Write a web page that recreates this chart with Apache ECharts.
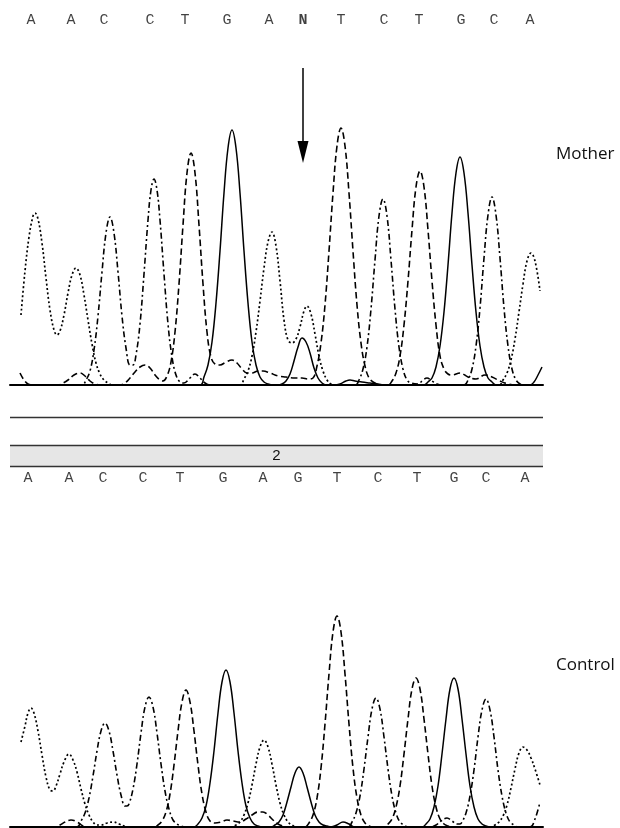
<!DOCTYPE html>
<html><head><meta charset="utf-8">
<script src="https://cdn.jsdelivr.net/npm/echarts@6/dist/echarts.min.js"></script>
<style>html,body{margin:0;padding:0;background:#fff}#c{width:620px;height:828px}</style>
</head><body><div id="c"></div>
<script>
// Sequence rows
var topSeq = ['A','A','C','C','T','G','A','N','T','C','T','G','C','A'];
var topPos = [31,71,104,150,185,227,269,303,341,384,419,461,494,530];
var bottomSeq = ['A','A','C','C','T','G','A','G','T','C','T','G','C','A'];
var bottomPos = [28,69,103,143,180,223,263,298,337,378,417,454,486,525];
var regionLabel = '2';
var arrowX = 303;

// Mother traces [scan position, signal]
var motherA = [[21,70],[25,114],[29,148],[33,169],[35,172],[38,166],[42,142],[46,107],[50,75],[54,55],[57,50],[60,54],[64,70],[68,92],[72,110],[76,117],[80,110],[84,90],[88,65],[92,41],[96,22],[100,11],[104,5],[108,2],[112,0],[240,0],[244,6],[248,14],[252,29],[256,53],[260,84],[264,117],[268,143],[272,153],[276,139],[280,104],[284,65],[288,45],[292,42],[296,46],[300,58],[304,74],[307,79],[311,71],[315,51],[319,29],[323,14],[327,5],[331,1],[335,0],[499,0],[503,5],[507,12],[511,25],[515,46],[519,73],[523,101],[527,124],[531,132],[535,124],[540,94]];
var motherC = [[20,0],[82,0],[86,5],[90,14],[94,35],[98,69],[102,113],[106,152],[110,168],[114,152],[118,113],[122,69],[126,37],[130,20],[133,20],[136,30],[140,61],[144,111],[148,165],[151,195],[154,206],[157,195],[160,165],[164,111],[168,61],[172,28],[176,10],[180,3],[184,2],[190,7],[195,11],[200,7],[205,2],[210,0],[355,0],[359,5],[363,16],[367,38],[371,76],[375,125],[379,169],[383,186],[387,169],[391,125],[395,76],[399,38],[403,16],[407,5],[411,2],[418,1],[422,4],[427,7],[432,4],[437,1],[442,0],[464,0],[468,5],[472,16],[476,39],[480,77],[484,127],[488,170],[492,188],[496,170],[500,127],[504,77],[508,39],[512,16],[516,5],[520,1],[524,0],[543,0]];
var motherT = [[20,12],[24,5],[28,1],[33,0],[58,0],[63,2],[68,5],[74,10],[80,12],[85,9],[90,4],[95,1],[100,0],[120,0],[125,2],[130,7],[135,13],[140,18],[145,20],[150,17],[155,10],[160,5],[163,4],[167,9],[171,23],[175,53],[179,101],[183,160],[187,212],[191,232],[195,212],[199,160],[203,101],[207,53],[211,28],[215,21],[220,20],[226,23],[232,25],[237,22],[242,16],[247,12],[252,12],[258,14],[263,14],[270,12],[278,9],[286,8],[295,7],[302,7],[308,6],[313,7],[317,19],[321,42],[325,80],[329,134],[333,192],[337,239],[341,257],[345,239],[349,192],[353,134],[357,80],[361,42],[365,19],[369,7],[373,3],[377,1],[381,0],[388,0],[392,4],[396,12],[400,29],[404,60],[408,104],[412,155],[416,198],[420,214],[424,198],[428,155],[432,104],[436,60],[440,29],[444,16],[448,11],[452,10],[460,12],[468,8],[476,6],[485,10],[492,8],[500,4],[508,1],[515,0],[543,0]];
var motherG = [[20,0],[200,0],[204,8],[208,20],[212,43],[216,82],[220,134],[224,192],[228,237],[232,255],[236,237],[240,192],[244,134],[248,82],[252,43],[256,20],[260,8],[264,3],[268,1],[273,0],[278,0],[282,1],[286,4],[290,11],[294,24],[298,38],[302,47],[306,43],[310,32],[314,17],[318,7],[322,2],[326,0],[334,0],[340,1],[346,4],[350,5],[355,4],[362,3],[370,2],[378,1],[385,0],[424,0],[428,3],[432,7],[436,18],[440,39],[444,73],[448,120],[452,172],[456,212],[460,228],[464,212],[468,172],[472,120],[476,73],[480,39],[484,18],[488,7],[492,3],[496,0],[530,0],[534,3],[538,10],[542,18]];

// Control traces
var controlA = [[21,85],[25,101],[28,114],[31,119],[34,114],[38,96],[42,72],[46,50],[50,37],[53,36],[56,41],[60,53],[64,65],[69,73],[73,67],[77,55],[81,38],[85,23],[89,12],[93,5],[97,2],[101,2],[107,4],[113,5],[119,3],[124,1],[128,0],[232,0],[236,2],[240,5],[244,12],[248,24],[252,42],[256,63],[260,80],[264,87],[268,80],[272,63],[276,42],[280,24],[284,12],[288,5],[292,2],[296,0],[491,0],[495,2],[499,5],[503,11],[507,22],[511,39],[515,58],[519,74],[523,80],[527,77],[531,69],[535,58],[540,42]];
var controlC = [[20,0],[77,0],[81,6],[85,14],[89,29],[93,51],[97,76],[101,96],[105,104],[109,96],[113,76],[117,52],[121,32],[125,21],[127,21],[129,23],[133,38],[137,63],[141,94],[145,120],[149,130],[153,120],[157,94],[161,63],[165,36],[169,18],[173,7],[177,3],[181,1],[185,0],[348,0],[352,5],[356,14],[360,31],[364,58],[368,90],[372,118],[376,129],[380,118],[384,90],[388,58],[392,31],[396,14],[400,5],[404,2],[408,0],[430,0],[436,2],[441,6],[447,9],[452,6],[457,3],[460,3],[462,5],[466,14],[470,31],[474,57],[478,90],[482,117],[486,128],[490,117],[494,90],[498,57],[502,31],[506,14],[510,5],[514,2],[518,0],[530,0],[535,8],[540,25]];
var controlT = [[20,0],[55,0],[60,2],[65,5],[71,7],[77,5],[83,1],[88,0],[154,0],[158,2],[162,6],[166,15],[170,33],[174,62],[178,96],[182,125],[186,137],[190,125],[194,96],[198,62],[202,33],[206,15],[210,6],[215,4],[221,5],[227,7],[233,6],[240,5],[246,8],[252,12],[258,15],[263,15],[268,12],[273,7],[278,3],[283,1],[288,0],[305,0],[309,4],[313,12],[317,29],[321,59],[325,103],[329,153],[333,195],[337,211],[341,195],[345,153],[349,103],[353,59],[357,29],[361,12],[365,4],[369,1],[373,0],[384,0],[388,3],[392,8],[396,20],[400,41],[404,73],[408,108],[412,138],[416,149],[420,138],[424,108],[428,73],[432,41],[436,20],[440,8],[444,3],[448,1],[452,0],[543,0]];
var controlG = [[20,0],[194,0],[198,3],[202,9],[206,21],[210,44],[214,76],[218,114],[222,145],[226,157],[230,145],[234,114],[238,76],[242,44],[246,21],[250,9],[254,3],[258,1],[262,0],[271,0],[275,2],[279,5],[283,12],[287,25],[291,40],[295,54],[299,60],[303,54],[307,40],[311,25],[315,12],[319,5],[323,2],[327,1],[331,0],[337,2],[343,5],[349,3],[355,0],[422,0],[426,3],[430,8],[434,20],[438,41],[442,73],[446,108],[450,138],[454,149],[458,138],[462,108],[466,73],[470,41],[474,20],[478,8],[482,3],[486,1],[490,0],[543,0]];

var chart = echarts.init(document.getElementById('c'), null, {renderer:'canvas'});
var styleA = {color:'#000', width:1.7, type:[2,2.5]};
var styleC = {color:'#000', width:1.6, type:[6,3,2,3]};
var styleT = {color:'#000', width:1.6, type:[6.5,3.5]};
var styleG = {color:'#000', width:1.5, type:'solid'};
function trace(data, style, gi){
  return {type:'line', xAxisIndex:gi, yAxisIndex:gi, data:data, showSymbol:false, symbol:'none',
    smooth:0.4, lineStyle:style, silent:true, z:3, clip:false};
}
function letters(seq, pos, yv, gi){
  return {type:'scatter', xAxisIndex:gi, yAxisIndex:gi, symbolSize:2, itemStyle:{color:'rgba(0,0,0,0)'}, clip:false, silent:true, z:5,
    data: seq.map(function(s,i){
      return {name:s, value:[pos[i], yv], label:{fontWeight: s==='N' ? 'bold':'normal'}};
    }),
    label:{show:true, position:'inside', formatter:'{b}', fontFamily:'Liberation Mono', fontSize:15, color:'#111'}
  };
}
var xBase = {type:'value', min:10, max:543, axisTick:{show:false}, axisLabel:{show:false}, splitLine:{show:false},
  axisLine:{show:true, onZero:false, lineStyle:{color:'#000', width:2}}};
var yBase = {type:'value', show:false, min:0, splitLine:{show:false}};
var option = {
  animation:false,
  backgroundColor:'#fff',
  grid:[{left:10, width:533, top:0, height:385}, {left:10, width:533, top:400, height:427}],
  xAxis:[Object.assign({gridIndex:0}, xBase), Object.assign({gridIndex:1}, xBase)],
  yAxis:[Object.assign({gridIndex:0, max:385}, yBase), Object.assign({gridIndex:1, max:427}, yBase)],
  graphic:[
    {type:'text', left:556, top:146, style:{text:'Mother', font:'17px "Open Sans"', fill:'#111'}},
    {type:'text', left:556, top:657, style:{text:'Control', font:'17px "Open Sans"', fill:'#111'}}
  ],
  series:[
    trace(motherA, styleA, 0), trace(motherC, styleC, 0), trace(motherT, styleT, 0), trace(motherG, styleG, 0),
    trace(controlA, styleA, 1), trace(controlC, styleC, 1), trace(controlT, styleT, 1), trace(controlG, styleG, 1),
    letters(topSeq, topPos, 365, 0),
    letters(bottomSeq, bottomPos, 349, 1),
    {type:'scatter', xAxisIndex:0, yAxisIndex:0, data:[], silent:true, clip:false,
      markLine:{silent:true, symbol:['none','triangle'], symbolSize:[11,22], label:{show:false},
        lineStyle:{color:'#000', width:1.5, type:'solid'},
        data:[[{coord:[arrowX,317]},{coord:[arrowX,233]}]]}},
    {type:'scatter', xAxisIndex:1, yAxisIndex:1, data:[], silent:true, clip:false,
      markArea:{silent:true, itemStyle:{color:'#e6e6e6'},
        label:{show:true, position:'inside', fontFamily:'Liberation Sans', fontSize:15, color:'#111'},
        data:[[{name:regionLabel, coord:[10,382]},{coord:[543,361]}]]},
      markLine:{silent:true, symbol:'none', label:{show:false}, lineStyle:{color:'#333', width:1.3, type:'solid'},
        data:[[{coord:[10,410]},{coord:[543,410]}],[{coord:[10,382]},{coord:[543,382]}],[{coord:[10,361]},{coord:[543,361]}]]}}
  ]
};
chart.setOption(option);
</script></body></html>
